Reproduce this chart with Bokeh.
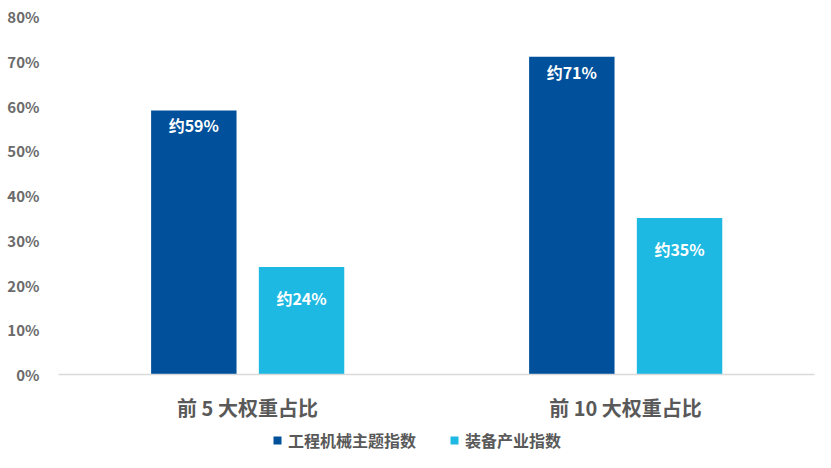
from bokeh.plotting import figure
from bokeh.layouts import column
from bokeh.models import (ColumnDataSource, FactorRange, Range1d, FixedTicker,
                          PrintfTickFormatter, Legend, LegendItem)
from bokeh.transform import dodge
from bokeh.core.properties import value
from bokeh.embed import file_html
from bokeh.resources import INLINE

# ---- data ----
categories = ["前 5 大权重占比", "前 10 大权重占比"]
series_names = ["工程机械主题指数", "装备产业指数"]
machinery = [59, 71]
equipment = [24, 35]
machinery_labels = ["约59%", "约71%"]
equipment_labels = ["约24%", "约35%"]
y_ticks = [0, 10, 20, 30, 40, 50, 60, 70, 80]

FONT = "Noto Sans CJK SC"
DARK = "#00509B"
LIGHT = "#1EB9E2"

src = ColumnDataSource(dict(cat=categories, m=machinery, e=equipment,
                            ml=machinery_labels, el=equipment_labels))

p = figure(width=815, height=425, output_backend="svg", toolbar_location=None,
           x_range=FactorRange(factors=categories), y_range=Range1d(0, 80),
           min_border_left=58, min_border_right=1, min_border_top=16,
           min_border_bottom=51)
p.outline_line_color = None
p.xgrid.visible = False
p.ygrid.visible = False

r1 = p.vbar(x=dodge("cat", -0.142, range=p.x_range), top="m", width=0.226,
            source=src, fill_color=DARK, line_color=None)
r2 = p.vbar(x=dodge("cat", 0.143, range=p.x_range), top="e", width=0.226,
            source=src, fill_color=LIGHT, line_color=None)

p.text(x=dodge("cat", -0.142, range=p.x_range), y="m", text="ml", source=src,
       y_offset=15, text_align="center", text_baseline="middle",
       text_color="white", text_font=value(FONT), text_font_size="16px",
       text_font_style="bold")
p.text(x=dodge("cat", 0.143, range=p.x_range), y="e", text="el", source=src,
       y_offset=31, text_align="center", text_baseline="middle",
       text_color="white", text_font=value(FONT), text_font_size="16px",
       text_font_style="bold")

# x axis
xa = p.xaxis[0]
xa.axis_line_color = "#D9D9D9"
xa.axis_line_width = 1.5
xa.major_tick_line_color = None
xa.minor_tick_line_color = None
xa.major_tick_out = 0
xa.major_label_standoff = 18
xa.major_label_text_font = FONT
xa.major_label_text_font_size = "20px"
xa.major_label_text_font_style = "bold"
xa.major_label_text_color = "#595959"

# y axis
ya = p.yaxis[0]
ya.ticker = FixedTicker(ticks=y_ticks)
ya.formatter = PrintfTickFormatter(format="%d%%")
ya.axis_line_color = None
ya.major_tick_line_color = None
ya.minor_tick_line_color = None
ya.major_tick_out = 0
ya.major_label_standoff = 19
ya.major_label_text_font = FONT
ya.major_label_text_font_size = "15px"
ya.major_label_text_font_style = "bold"
ya.major_label_text_color = "#6B6B6B"

# ---- legend strip (hidden key renderers; only the legend is shown) ----
lg = figure(width=815, height=27, output_backend="svg", toolbar_location=None,
            x_range=Range1d(0, 1), y_range=Range1d(0, 1),
            x_axis_location=None, y_axis_location=None,
            min_border_left=0, min_border_right=0, min_border_top=0,
            min_border_bottom=0)
lg.outline_line_color = None
lg.xgrid.visible = False
lg.ygrid.visible = False
k1 = lg.vbar(x="m", top="m", width=0.1, source=src, fill_color=DARK,
             line_color=None, visible=False)
k2 = lg.vbar(x="e", top="e", width=0.1, source=src, fill_color=LIGHT,
             line_color=None, visible=False)

legend = Legend(items=[LegendItem(label=series_names[0], renderers=[k1]),
                       LegendItem(label=series_names[1], renderers=[k2])],
                location=(214, 0), orientation="horizontal",
                glyph_width=10, glyph_height=10, label_standoff=6, spacing=33,
                padding=0, margin=0, border_line_color=None,
                background_fill_alpha=0, inactive_fill_alpha=0,
                label_text_font=FONT, label_text_font_size="16px",
                label_text_font_style="bold", label_text_color="#595959")
lg.add_layout(legend)

page = column(p, lg, spacing=0)
open("out.html", "w").write(file_html(page, INLINE))
